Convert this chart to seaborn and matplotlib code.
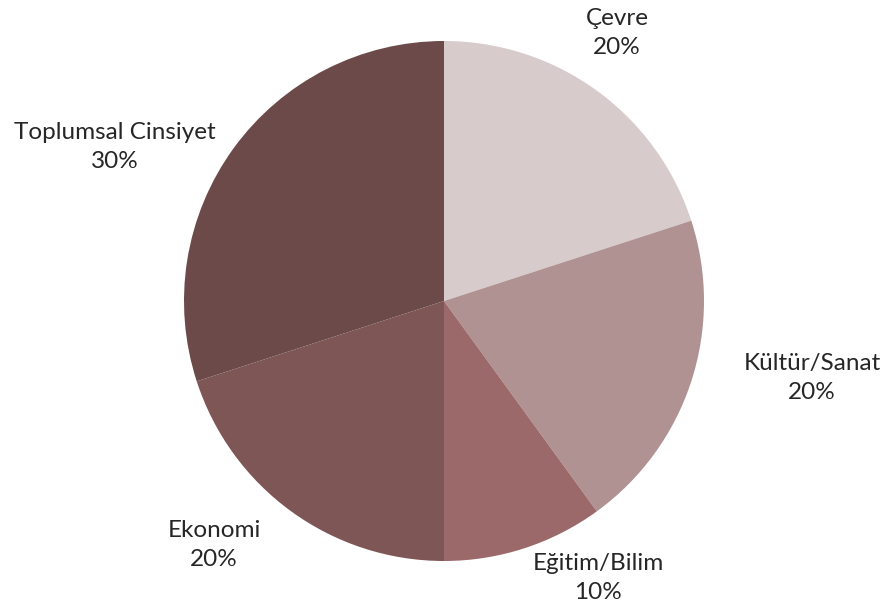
import matplotlib
matplotlib.use("Agg")
import matplotlib.pyplot as plt
import seaborn as sns

# data
categories = ["Çevre", "Kültür/Sanat", "Eğitim/Bilim", "Ekonomi", "Toplumsal Cinsiyet"]
shares = [20, 20, 10, 20, 30]
colors = ["#d8cbcb", "#b09292", "#9b6969", "#7f5656", "#6c4a4a"]

# label anchor points in pixel space (layout only)
label_pos = [(617, 33), (812, 378), (598, 578), (214, 545), (115, 147)]

sns.set_theme(style="white")
plt.rcParams["font.family"] = ["Lato", "DejaVu Sans"]

W, H = 887, 613
fig = plt.figure(figsize=(W / 100, H / 100), dpi=100)
ax = fig.add_axes([0, 0, 1, 1])

wedges, texts = ax.pie(
    shares,
    colors=colors,
    startangle=90,
    counterclock=False,
    center=(444, H - 301),
    radius=260,
    labels=[f"{c}\n{s}%" for c, s in zip(categories, shares)],
    wedgeprops=dict(edgecolor="none", linewidth=0),
    textprops=dict(fontsize=17.5, color="#262626", ha="center", va="center",
                   linespacing=1.42),
    frame=True,
)
ax.axis("off")
ax.set_xlim(0, W)
ax.set_ylim(0, H)

for t, (x, y) in zip(texts, label_pos):
    t.set_position((x, H - y))
    t.set_horizontalalignment("center")
    t.set_verticalalignment("center")

plt.savefig("out.png", dpi=100)
plt.close()
